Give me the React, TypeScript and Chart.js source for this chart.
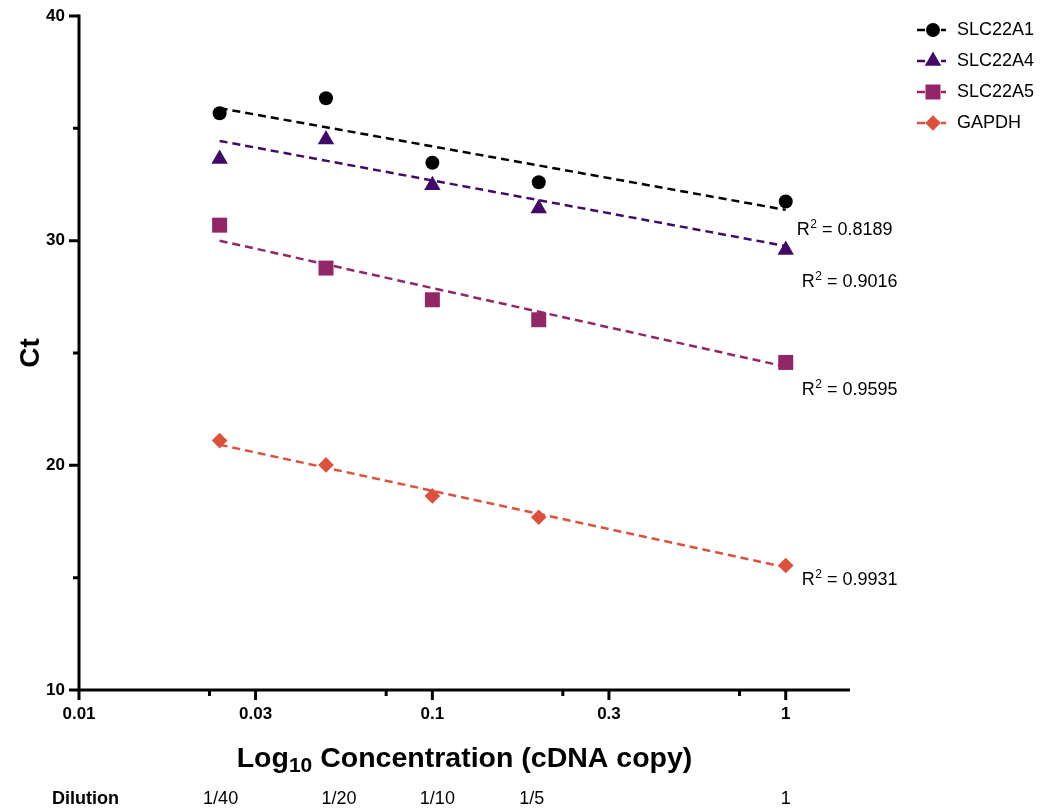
import React, { useEffect, useRef } from 'react';
import { Chart, registerables } from 'chart.js';

Chart.register(...registerables);

const FONT = '"Liberation Sans", Arial, Helvetica, sans-serif';

// ---- data ----
const dilutions = [1 / 40, 1 / 20, 1 / 10, 1 / 5, 1];
const dilutionLabels = ['1/40', '1/20', '1/10', '1/5', '1'];
const seriesNames = ['SLC22A1', 'SLC22A4', 'SLC22A5', 'GAPDH'];

const slc22a1 = [35.67, 36.34, 33.47, 32.6, 31.74];
const slc22a4 = [33.64, 34.5, 32.47, 31.43, 29.59];
const slc22a5 = [30.69, 28.78, 27.37, 26.48, 24.58];
const gapdh = [21.1, 20.02, 18.64, 17.69, 15.54];

// fitted trend lines, read at 1/40 and 1
const trendX = [1 / 40, 1];
const trendA1 = [35.9, 31.37];
const trendA4 = [34.44, 29.76];
const trendA5 = [30.0, 24.39];
const trendGapdh = [20.92, 15.46];

const r2Values = ['0.8189', '0.9016', '0.9595', '0.9931'];

// ---- axis ticks ----
const yMajorTicks = [10, 20, 30, 40];
const yMinorTicks = [15, 25, 35];
const xMajorTicks = [0.01, 0.0316, 0.1, 0.316, 1];
const xTickLabels = ['0.01', '0.03', '0.1', '0.3', '1'];
const xMinorTicks = [0.0234, 0.074, 0.234, 0.74];

// ---- styles ----
const colors = ['#000000', '#420a68', '#932667', '#dd513a'];
const pointStyles = ['circle', 'triangle', 'rect', 'rectRot'];
const pointRadii = [7, 9.5, 10.6, 7.8];
const r2AnchorCt = [30.25, 27.94, 23.13, 14.68];
const r2Dx = [11, 16, 16, 16];
const dilutionNudge = [1, 13, 5, -7, 0];
const legendRows = [30, 61, 92, 123];

const series = [slc22a1, slc22a4, slc22a5, gapdh];
const trends = [trendA1, trendA4, trendA5, trendGapdh];

function drawMarker(ctx: CanvasRenderingContext2D, style: string, x: number, y: number, r: number, color: string) {
  ctx.fillStyle = color;
  ctx.beginPath();
  if (style === 'circle') {
    ctx.arc(x, y, r, 0, Math.PI * 2);
  } else if (style === 'triangle') {
    ctx.moveTo(x, y - r);
    ctx.lineTo(x + 0.866 * r, y + 0.5 * r);
    ctx.lineTo(x - 0.866 * r, y + 0.5 * r);
    ctx.closePath();
  } else if (style === 'rect') {
    const s = Math.SQRT1_2 * r;
    ctx.rect(x - s, y - s, 2 * s, 2 * s);
  } else {
    ctx.moveTo(x, y - r);
    ctx.lineTo(x + r, y);
    ctx.lineTo(x, y + r);
    ctx.lineTo(x - r, y);
    ctx.closePath();
  }
  ctx.fill();
}

const overlayPlugin = {
  id: 'overlay',
  afterDraw(chart: any) {
    const { ctx, chartArea: a, scales } = chart;
    const xs = scales.x;
    const ys = scales.y;
    ctx.save();

    // axes
    ctx.strokeStyle = '#000';
    ctx.lineWidth = 3;
    ctx.beginPath();
    ctx.moveTo(a.left, ys.getPixelForValue(40) - 1.5);
    ctx.lineTo(a.left, a.bottom + 1.5);
    ctx.moveTo(a.left - 1.5, a.bottom);
    ctx.lineTo(a.right, a.bottom);
    ctx.stroke();

    // y ticks
    ctx.beginPath();
    yMajorTicks.forEach((v) => {
      const p = ys.getPixelForValue(v);
      ctx.moveTo(a.left - 10, p);
      ctx.lineTo(a.left, p);
    });
    yMinorTicks.forEach((v) => {
      const p = ys.getPixelForValue(v);
      ctx.moveTo(a.left - 6, p);
      ctx.lineTo(a.left, p);
    });
    // x ticks
    xMajorTicks.forEach((v) => {
      const p = xs.getPixelForValue(v);
      ctx.moveTo(p, a.bottom);
      ctx.lineTo(p, a.bottom + 10);
    });
    xMinorTicks.forEach((v) => {
      const p = xs.getPixelForValue(v);
      ctx.moveTo(p, a.bottom);
      ctx.lineTo(p, a.bottom + 6);
    });
    ctx.stroke();

    ctx.fillStyle = '#000';

    // y title
    ctx.save();
    ctx.translate(31, (a.top + a.bottom) / 2);
    ctx.rotate(-Math.PI / 2);
    ctx.font = `bold 28px ${FONT}`;
    ctx.textAlign = 'center';
    ctx.textBaseline = 'middle';
    ctx.fillText('Ct', 0, 0);
    ctx.restore();

    // x title with subscript
    const mainFont = `bold 28.5px ${FONT}`;
    const subFont = `bold 21px ${FONT}`;
    const t1 = 'Log';
    const t2 = '10';
    const t3 = ' Concentration (cDNA copy)';
    ctx.textAlign = 'left';
    ctx.textBaseline = 'alphabetic';
    ctx.font = mainFont;
    const w1 = ctx.measureText(t1).width;
    const w3 = ctx.measureText(t3).width;
    ctx.font = subFont;
    const w2 = ctx.measureText(t2).width;
    const total = w1 + w2 + w3;
    let tx = (a.left + a.right) / 2 - total / 2;
    const baseY = 767;
    ctx.font = mainFont;
    ctx.fillText(t1, tx, baseY);
    tx += w1;
    ctx.font = subFont;
    ctx.fillText(t2, tx, baseY + 5);
    tx += w2;
    ctx.font = mainFont;
    ctx.fillText(t3, tx, baseY);

    // dilution row
    const rowY = 804;
    ctx.font = `bold 18px ${FONT}`;
    ctx.textAlign = 'left';
    ctx.fillText('Dilution', 52, rowY);
    ctx.font = `18px ${FONT}`;
    ctx.textAlign = 'center';
    dilutions.forEach((d, i) => {
      ctx.fillText(dilutionLabels[i], xs.getPixelForValue(d) + dilutionNudge[i], rowY);
    });

    // R² labels
    ctx.textAlign = 'left';
    r2Values.forEach((val, i) => {
      let x = xs.getPixelForValue(1) + r2Dx[i];
      const y = ys.getPixelForValue(r2AnchorCt[i]);
      ctx.font = `18px ${FONT}`;
      ctx.fillText('R', x, y);
      x += ctx.measureText('R').width;
      ctx.font = `12px ${FONT}`;
      ctx.fillText('2', x + 0.5, y - 7);
      x += ctx.measureText('2').width + 0.5;
      ctx.font = `18px ${FONT}`;
      ctx.fillText(' = ' + val, x, y);
    });

    // legend
    ctx.textBaseline = 'middle';
    seriesNames.forEach((name, i) => {
      const y = legendRows[i];
      const mx = 933;
      ctx.strokeStyle = colors[i];
      ctx.lineWidth = 2.5;
      ctx.beginPath();
      ctx.moveTo(917, y);
      ctx.lineTo(925, y);
      ctx.moveTo(941, y);
      ctx.lineTo(946, y);
      ctx.stroke();
      drawMarker(ctx, pointStyles[i], mx, y, pointRadii[i], colors[i]);
      ctx.fillStyle = '#000';
      ctx.font = `18px ${FONT}`;
      ctx.fillText(name, 957, y);
    });

    ctx.restore();
  },
};

export default function App() {
  const canvasRef = useRef<HTMLCanvasElement | null>(null);

  useEffect(() => {
    if (!canvasRef.current) return;
    const datasets: any[] = [
      ...series.map((s, i) => ({
        type: 'scatter',
        label: seriesNames[i],
        data: dilutions.map((d, j) => ({ x: d, y: s[j] })),
        pointStyle: pointStyles[i],
        pointRadius: pointRadii[i],
        backgroundColor: colors[i],
        borderColor: colors[i],
        borderWidth: 0,
        showLine: false,
      })),
      ...trends.map((t, i) => ({
        type: 'line',
        label: seriesNames[i] + ' fit',
        data: trendX.map((d, j) => ({ x: d, y: t[j] })),
        borderColor: colors[i],
        borderWidth: 2.5,
        borderDash: [8, 5],
        pointRadius: 0,
        fill: false,
      })),
    ];

    const tickFont = { family: FONT, size: 17, weight: 'bold' as const };

    const chart = new Chart(canvasRef.current, {
      type: 'scatter',
      data: { datasets },
      options: {
        responsive: false,
        animation: false,
        layout: { padding: { left: 0, right: 200, top: 16, bottom: 0 } },
        plugins: { legend: { display: false }, tooltip: { enabled: false } },
        scales: {
          x: {
            type: 'logarithmic',
            min: 0.01,
            max: 1.52,
            afterBuildTicks: (s: any) => {
              s.ticks = xMajorTicks.map((v) => ({ value: v }));
            },
            afterFit: (s: any) => {
              s.height = 121;
            },
            grid: { display: false, drawTicks: true, tickLength: 10 },
            border: { display: false },
            ticks: {
              autoSkip: false,
              maxRotation: 0,
              padding: 4,
              color: '#000',
              font: tickFont,
              callback: (_v: any, i: number) => xTickLabels[i],
            },
          },
          y: {
            type: 'linear',
            min: 10,
            max: 40,
            afterBuildTicks: (s: any) => {
              s.ticks = yMajorTicks.map((v) => ({ value: v }));
            },
            afterFit: (s: any) => {
              s.width = 79;
            },
            grid: { display: false, drawTicks: true, tickLength: 10 },
            border: { display: false },
            ticks: {
              padding: 4,
              color: '#000',
              font: tickFont,
            },
          },
        },
      } as any,
      plugins: [overlayPlugin],
    });
    return () => chart.destroy();
  }, []);

  return (
    <div style={{ position: 'fixed', left: 0, top: 0, width: 1050, height: 811, background: '#fff' }}>
      <canvas ref={canvasRef} width={1050} height={811} style={{ display: 'block' }} />
    </div>
  );
}
